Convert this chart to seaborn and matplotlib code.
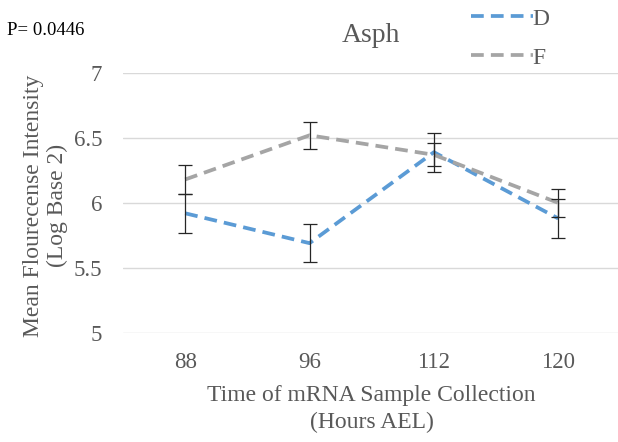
import matplotlib
matplotlib.use("Agg")
import matplotlib.pyplot as plt
import seaborn as sns
import pandas as pd

# Collection times (hours AEL) and per-group means with standard errors
hours = ["88", "96", "112", "120"]
d_mean = [5.92, 5.69, 6.39, 5.88]
d_err = [0.15, 0.145, 0.15, 0.15]
f_mean = [6.18, 6.52, 6.37, 6.00]
f_err = [0.11, 0.105, 0.09, 0.11]
groups = ["D", "F"]
colors = {"D": "#5B9BD5", "F": "#A5A5A5"}
p_text = "P= 0.0446"

df = pd.DataFrame({
    "hour": hours * 2,
    "pos": list(range(len(hours))) * 2,
    "group": ["D"] * len(hours) + ["F"] * len(hours),
    "mean": d_mean + f_mean,
    "err": d_err + f_err,
})

sns.set_theme(style="white")
plt.rcParams["font.family"] = ["Liberation Serif", "DejaVu Serif"]
text_color = "#595959"
dash = (3.4, 1.9)

fig = plt.figure(figsize=(6.18, 4.42), dpi=100)
ax = fig.add_axes([0.199, 0.247, 0.805, 0.588])

sns.lineplot(data=df, x="pos", y="mean", hue="group", hue_order=groups,
             palette=colors, ax=ax, linewidth=2.7, legend=False,
             dashes=False, sort=False)
for line in ax.lines:
    line.set_dashes(dash)
    line.set_dash_capstyle("butt")

for g in groups:
    sub = df[df["group"] == g]
    ax.errorbar(sub["pos"], sub["mean"], yerr=sub["err"], fmt="none",
                ecolor="#262626", elinewidth=0.9, capsize=5, capthick=0.9,
                zorder=4)

ax.set_xlim(-0.5, len(hours) - 0.5)
ax.set_ylim(5, 7)
ax.set_yticks([5, 5.5, 6, 6.5, 7])
ax.set_yticklabels(["5", "5.5", "6", "6.5", "7"])
ax.set_xticks(range(len(hours)))
ax.set_xticklabels(hours)
ax.yaxis.grid(True, color="#D9D9D9", linewidth=1.0)
ax.set_axisbelow(True)
for s in ax.spines.values():
    s.set_visible(False)
ax.tick_params(axis="both", length=0, labelsize=16.5, labelcolor=text_color)
ax.tick_params(axis="y", pad=15)
ax.tick_params(axis="x", pad=14)

ax.set_xlabel("Time of mRNA Sample Collection\n(Hours AEL)", fontsize=17,
              color=text_color, linespacing=1.4)
ax.xaxis.set_label_coords(0.5, -0.2)
ax.set_ylabel("Mean Flourecense Intensity\n(Log Base 2)", fontsize=17,
              color=text_color, linespacing=1.2)
ax.yaxis.set_label_coords(-0.11, 0.49)

fig.text(0.600, 0.905, "Asph", fontsize=20, color=text_color,
         ha="center", va="baseline")
fig.text(0.012, 0.932, p_text, fontsize=13.5, color="black",
         ha="left", va="center")

handles = [plt.Line2D([], [], color=colors[g], linewidth=2.7, dashes=dash)
           for g in groups]
fig.legend(handles, groups, loc="upper left", bbox_to_anchor=(0.728, 1.03),
           frameon=False, fontsize=17, handlelength=2.6, handletextpad=0.0,
           labelspacing=0.75, labelcolor=text_color)

fig.savefig("out.png", dpi=100)
